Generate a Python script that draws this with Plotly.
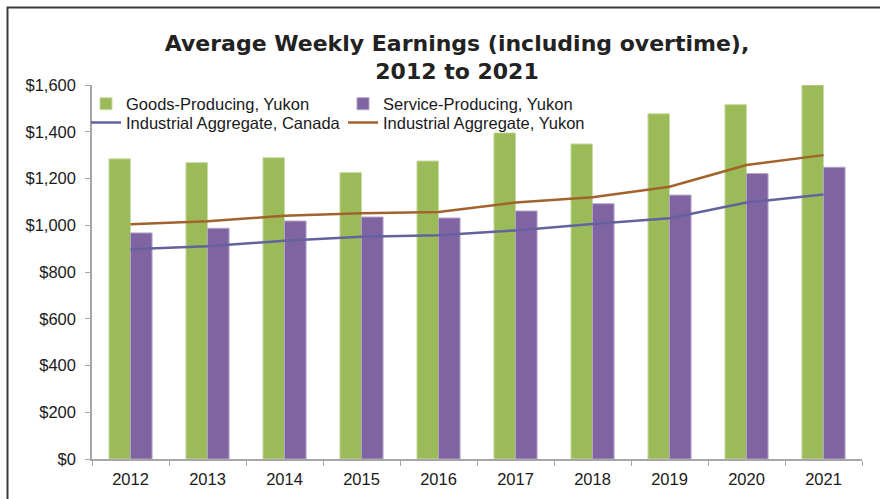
import plotly.graph_objects as go

years = ["2012", "2013", "2014", "2015", "2016", "2017", "2018", "2019", "2020", "2021"]
goods_yukon = [1284, 1268, 1289, 1226, 1275, 1395, 1348, 1477, 1516, 1600]
service_yukon = [967, 987, 1018, 1035, 1031, 1061, 1092, 1129, 1221, 1248]
ind_agg_canada = [897, 910, 934, 951, 957, 978, 1005, 1030, 1097, 1132]
ind_agg_yukon = [1004, 1017, 1041, 1051, 1057, 1097, 1120, 1165, 1258, 1300]
y_ticks = [0, 200, 400, 600, 800, 1000, 1200, 1400, 1600]
y_tick_labels = ["$" + f"{v:,}" for v in y_ticks]

fig = go.Figure()
fig.add_trace(go.Bar(x=years, y=goods_yukon, name="Goods-Producing, Yukon",
                     marker=dict(color="#9BBB59", line=dict(color="#C9DBA6", width=1)),
                     legend="legend2"))
fig.add_trace(go.Bar(x=years, y=service_yukon, name="Service-Producing, Yukon",
                     marker=dict(color="#8064A2", line=dict(color="#B3A2C7", width=1)),
                     legend="legend3"))
fig.add_trace(go.Scatter(x=years, y=ind_agg_canada, name="Industrial Aggregate, Canada",
                         mode="lines", line=dict(color="#63629E", width=2.5),
                         legend="legend4"))
fig.add_trace(go.Scatter(x=years, y=ind_agg_yukon, name="Industrial Aggregate, Yukon",
                         mode="lines", line=dict(color="#A2622C", width=2.5),
                         legend="legend5"))

W, H = 880, 499
L, R, T, B = 92, 18, 85, 40
pw, ph = W - L - R, H - T - B

def px_x(p):
    return (p - L) / pw

def px_y(p):
    return (H - B - p) / ph

legfont = dict(family="Liberation Sans, Arial, sans-serif", size=16.5, color="#1a1a1a")
def leg(xp, yp):
    return dict(x=px_x(xp), y=px_y(yp), xanchor="left", yanchor="middle",
                font=legfont, bgcolor="rgba(0,0,0,0)", borderwidth=0,
                itemwidth=30, visible=True)

fig.update_layout(
    width=W, height=H,
    margin=dict(l=L, r=R, t=T, b=B, autoexpand=False),
    paper_bgcolor="white", plot_bgcolor="white",
    showlegend=True,
    barmode="group", bargap=0.44, bargroupgap=0,
    title=dict(text="Average Weekly Earnings (including overtime),<br>2012 to 2021",
               font=dict(family="DejaVu Sans, sans-serif", size=22, color="#222222", weight="bold"),
               x=px_x(457), xref="paper", xanchor="center",
               y=1 - 50.5 / H, yref="container", yanchor="middle"),
    legend2=leg(86, 104),
    legend3=leg(343, 104),
    legend4=leg(86, 122.7),
    legend5=leg(343, 122.7),
    font=dict(family="Liberation Sans, Arial, sans-serif", size=16.5, color="#1a1a1a"),
    xaxis=dict(showline=True, linecolor="#A6A6A6", linewidth=1.5,
               ticks="outside", tickson="boundaries", ticklen=5, tickcolor="#A6A6A6",
               ticklabelstandoff=4,
               showgrid=False, tickfont=dict(size=16.5)),
    yaxis=dict(range=[0, 1600], tickmode="array", tickvals=y_ticks, ticktext=y_tick_labels,
               showline=True, linecolor="#A6A6A6", linewidth=1.5,
               ticks="outside", ticklen=5, tickcolor="#A6A6A6", ticklabelstandoff=6,
               showgrid=False, zeroline=False, tickfont=dict(size=16.5)),
    shapes=[dict(type="rect", xref="paper", yref="paper",
                 x0=px_x(7.5), x1=px_x(890), y0=px_y(510), y1=px_y(7.5),
                 line=dict(color="#3a3a3a", width=2), fillcolor="rgba(0,0,0,0)",
                 layer="above")],
)

fig.write_html("out.html", config={"displayModeBar": False},
               post_script="document.body.style.margin='0';document.body.style.overflow='hidden';")
